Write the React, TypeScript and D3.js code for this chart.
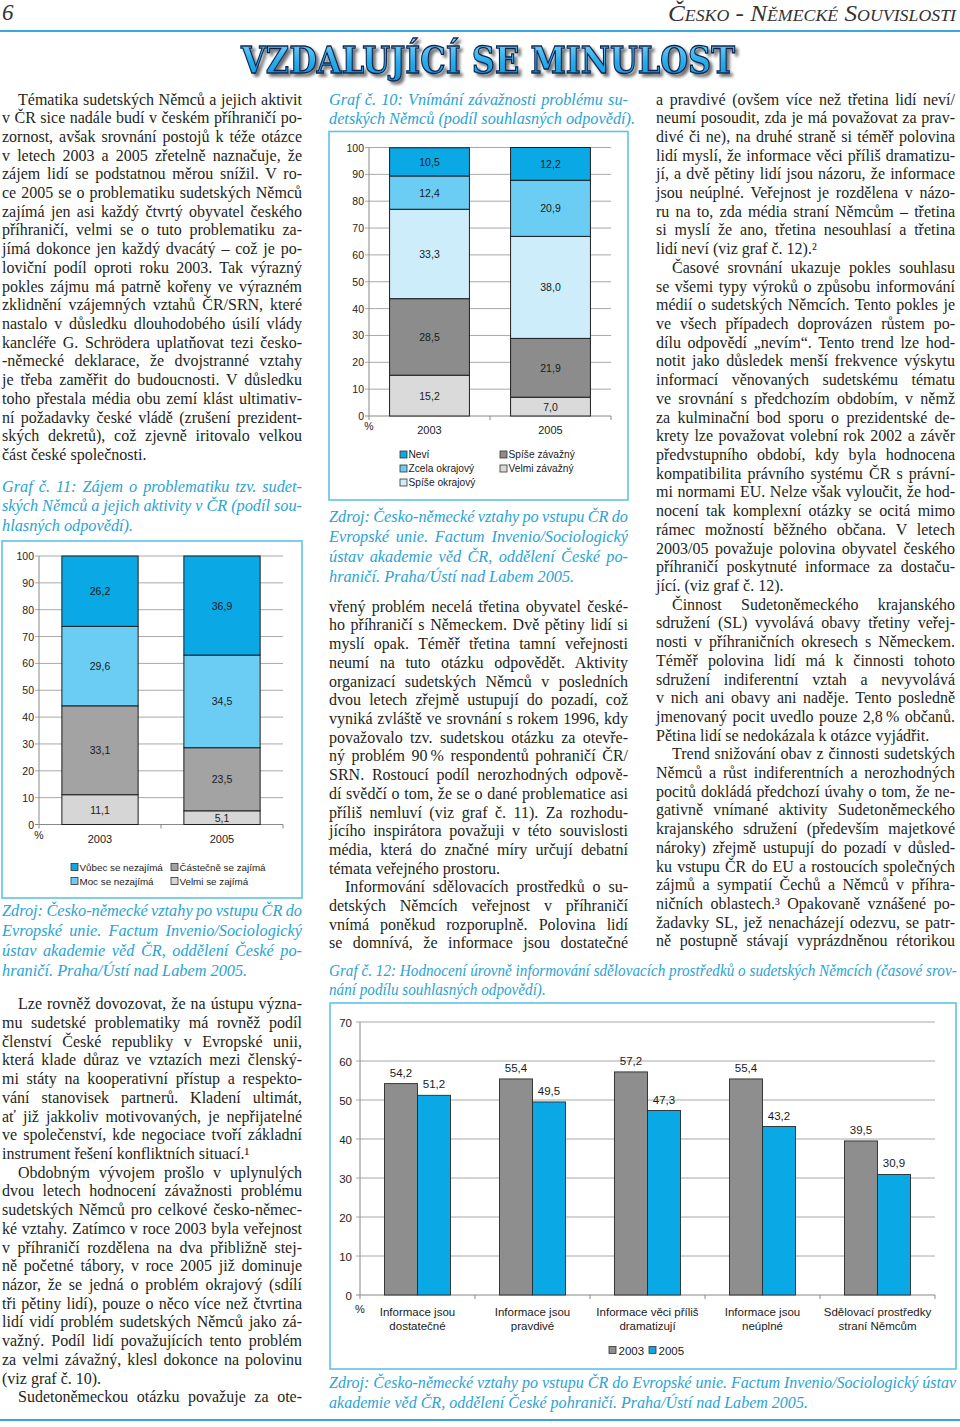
import React, { useEffect, useRef } from 'react';
import * as d3 from 'd3';

// ---------------- DATA ----------------
const years = ['2003', '2005'];

// Graf č. 10 (stack order bottom -> top)
const g10Keys = ['Velmi závažný', 'Spíše závažný', 'Spíše okrajový', 'Zcela okrajový', 'Neví'];
const g10Values2003 = [15.2, 28.5, 33.3, 12.4, 10.5];
const g10Values2005 = [7.0, 21.9, 38.0, 20.9, 12.2];
const g10Colors = ['#dadada', '#8c8c8c', '#cdedfb', '#6ccdf4', '#0aa8e5'];
const g10Legend = [
  { key: 'Neví', col: 0, row: 0 },
  { key: 'Spíše závažný', col: 1, row: 0 },
  { key: 'Zcela okrajový', col: 0, row: 1 },
  { key: 'Velmi závažný', col: 1, row: 1 },
  { key: 'Spíše okrajový', col: 0, row: 2 },
];

// Graf č. 11
const g11Keys = ['Velmi se zajímá', 'Částečně se zajímá', 'Moc se nezajímá', 'Vůbec se nezajímá'];
const g11Values2003 = [11.1, 33.1, 29.6, 26.2];
const g11Values2005 = [5.1, 23.5, 34.5, 36.9];
const g11Colors = ['#d6d6d6', '#a3a3a3', '#6ccdf4', '#0aa8e5'];
const g11Legend = [
  { key: 'Vůbec se nezajímá', col: 0, row: 0 },
  { key: 'Částečně se zajímá', col: 1, row: 0 },
  { key: 'Moc se nezajímá', col: 0, row: 1 },
  { key: 'Velmi se zajímá', col: 1, row: 1 },
];

const stackTicks = [0, 10, 20, 30, 40, 50, 60, 70, 80, 90, 100];

// Graf č. 12
const g12Categories = [
  'Informace jsou dostatečné',
  'Informace jsou pravdivé',
  'Informace věci příliš dramatizují',
  'Informace jsou neúplné',
  'Sdělovací prostředky straní Němcům',
];
const g12CategoryLines = [
  ['Informace jsou', 'dostatečné'],
  ['Informace jsou', 'pravdivé'],
  ['Informace věci příliš', 'dramatizují'],
  ['Informace jsou', 'neúplné'],
  ['Sdělovací prostředky', 'straní Němcům'],
];
const g12Values2003 = [54.2, 55.4, 57.2, 55.4, 39.5];
const g12Values2005 = [51.2, 49.5, 47.3, 43.2, 30.9];
const g12Colors = ['#8e8e8e', '#0aa8e5'];
const g12Ticks = [0, 10, 20, 30, 40, 50, 60, 70];

// ---------------- TEXT ----------------
// "~" = indented first line, "|" at end = last line (not justified)
const leftTopText = [
  '~Tématika sudetských Němců a jejich aktivit',
  'v ČR sice nadále budí v českém příhraničí po-',
  'zornost, avšak srovnání postojů k téže otázce',
  'v letech 2003 a 2005 zřetelně naznačuje, že',
  'zájem lidí se podstatnou měrou snížil. V ro-',
  'ce 2005 se o problematiku sudetských Němců',
  'zajímá jen asi každý čtvrtý obyvatel českého',
  'příhraničí, velmi se o tuto problematiku za-',
  'jímá dokonce jen každý dvacátý – což je po-',
  'loviční podíl oproti roku 2003. Tak výrazný',
  'pokles zájmu má patrně kořeny ve výrazném',
  'zklidnění vzájemných vztahů ČR/SRN, které',
  'nastalo v důsledku dlouhodobého úsilí vlády',
  'kancléře G. Schrödera uplatňovat tezi česko-',
  '-německé deklarace, že dvojstranné vztahy',
  'je třeba zaměřit do budoucnosti. V důsledku',
  'toho přestala média obu zemí klást ultimativ-',
  'ní požadavky české vládě (zrušení prezident-',
  'ských dekretů), což zjevně iritovalo velkou',
  'část české společnosti.|',
];
const caption11 = [
  'Graf č. 11: Zájem o problematiku tzv. sudet-',
  'ských Němců a jejich aktivity v ČR (podíl sou-',
  'hlasných odpovědí).|',
];
const sourceText = [
  'Zdroj: Česko-německé vztahy po vstupu ČR do',
  'Evropské unie. Factum Invenio/Sociologický',
  'ústav akademie věd ČR, oddělení České po-',
  'hraničí. Praha/Ústí nad Labem 2005.|',
];
const leftBottomText = [
  '~Lze rovněž dovozovat, že na ústupu význa-',
  'mu sudetské problematiky má rovněž podíl',
  'členství České republiky v Evropské unii,',
  'která klade důraz ve vztazích mezi členský-',
  'mi státy na kooperativní přístup a respekto-',
  'vání stanovisek partnerů. Kladení ultimát,',
  'ať již jakkoliv motivovaných, je nepřijatelné',
  've společenství, kde negociace tvoří základní',
  'instrument řešení konfliktních situací.¹|',
  '~Obdobným vývojem prošlo v uplynulých',
  'dvou letech hodnocení závažnosti problému',
  'sudetských Němců pro celkové česko-němec-',
  'ké vztahy. Zatímco v roce 2003 byla veřejnost',
  'v příhraničí rozdělena na dva přibližně stej-',
  'ně početné tábory, v roce 2005 již dominuje',
  'názor, že se jedná o problém okrajový (sdílí',
  'tři pětiny lidí), pouze o něco více než čtvrtina',
  'lidí vidí problém sudetských Němců jako zá-',
  'važný. Podíl lidí považujících tento problém',
  'za velmi závažný, klesl dokonce na polovinu',
  '(viz graf č. 10).|',
  '~Sudetoněmeckou otázku považuje za ote-',
];
const caption10 = [
  'Graf č. 10: Vnímání závažnosti problému su-',
  'detských Němců (podíl souhlasných odpovědí).|',
];
const middleText = [
  'vřený problém necelá třetina obyvatel české-',
  'ho příhraničí s Německem. Dvě pětiny lidí si',
  'myslí opak. Téměř třetina tamní veřejnosti',
  'neumí na tuto otázku odpovědět. Aktivity',
  'organizací sudetských Němců v posledních',
  'dvou letech zřejmě ustupují do pozadí, což',
  'vyniká zvláště ve srovnání s rokem 1996, kdy',
  'považovalo tzv. sudetskou otázku za otevře-',
  'ný problém 90\u2009% respondentů pohraničí ČR/',
  'SRN. Rostoucí podíl nerozhodných odpově-',
  'dí svědčí o tom, že se o dané problematice asi',
  'příliš nemluví (viz graf č. 11). Za rozhodu-',
  'jícího inspirátora považuji v této souvislosti',
  'média, která do značné míry určují debatní',
  'témata veřejného prostoru.|',
  '~Informování sdělovacích prostředků o su-',
  'detských Němcích veřejnost v příhraničí',
  'vnímá poněkud rozporuplně. Polovina lidí',
  'se domnívá, že informace jsou dostatečné',
];
const rightText = [
  'a pravdivé (ovšem více než třetina lidí neví/',
  'neumí posoudit, zda je má považovat za prav-',
  'divé či ne), na druhé straně si téměř polovina',
  'lidí myslí, že informace věci příliš dramatizu-',
  'jí, a dvě pětiny lidí jsou názoru, že informace',
  'jsou neúplné. Veřejnost je rozdělena v názo-',
  'ru na to, zda média straní Němcům – třetina',
  'si myslí že ano, třetina nesouhlasí a třetina',
  'lidí neví (viz graf č. 12).²|',
  '~Časové srovnání ukazuje pokles souhlasu',
  'se všemi typy výroků o způsobu informování',
  'médií o sudetských Němcích. Tento pokles je',
  've všech případech doprovázen růstem po-',
  'dílu odpovědí „nevím“. Tento trend lze hod-',
  'notit jako důsledek menší frekvence výskytu',
  'informací věnovaných sudetskému tématu',
  've srovnání s předchozím obdobím, v němž',
  'za kulminační bod sporu o prezidentské de-',
  'krety lze považovat volební rok 2002 a závěr',
  'předvstupního období, kdy byla hodnocena',
  'kompatibilita právního systému ČR s právní-',
  'mi normami EU. Nelze však vyloučit, že hod-',
  'nocení tak komplexní otázky se ocitá mimo',
  'rámec možností běžného občana. V letech',
  '2003/05 považuje polovina obyvatel českého',
  'příhraničí poskytnuté informace za dostaču-',
  'jící. (viz graf č. 12).|',
  '~Činnost Sudetoněmeckého krajanského',
  'sdružení (SL) vyvolává obavy třetiny veřej-',
  'nosti v příhraničních okresech s Německem.',
  'Téměř polovina lidí má k činnosti tohoto',
  'sdružení indiferentní vztah a nevyvolává',
  'v nich ani obavy ani naděje. Tento posledně',
  'jmenovaný pocit uvedlo pouze 2,8\u2009% občanů.',
  'Pětina lidí se nedokázala k otázce vyjádřit.|',
  '~Trend snižování obav z činnosti sudetských',
  'Němců a růst indiferentních a nerozhodných',
  'pocitů dokládá předchozí úvahy o tom, že ne-',
  'gativně vnímané aktivity Sudetoněmeckého',
  'krajanského sdružení (především majetkové',
  'nároky) zřejmě ustupují do pozadí v důsled-',
  'ku vstupu ČR do EU a rostoucích společných',
  'zájmů a sympatií Čechů a Němců v příhra-',
  'ničních oblastech.³ Opakovaně vznášené po-',
  'žadavky SL, jež nenacházejí odezvu, se patr-',
  'ně postupně stávají vyprázdněnou rétorikou',
];
const caption12 = [
  'Graf č. 12: Hodnocení úrovně informování sdělovacích prostředků o sudetských Němcích (časové srov-',
  'nání podílu souhlasných odpovědí).',
];
const source12 = [
  'Zdroj: Česko-německé vztahy po vstupu ČR do Evropské unie. Factum Invenio/Sociologický ústav',
  'akademie věd ČR, oddělení České pohraničí. Praha/Ústí nad Labem 2005.',
];

// ---------------- STYLE ----------------
const SERIF = '"Liberation Serif", "Times New Roman", serif';
const SANS = '"Liberation Sans", Arial, sans-serif';
const TEXT_COLOR = '#231f20';
const CAPTION_COLOR = '#2aa3d4';
const BOX_COLOR = '#5ec3e6';
const GRID = '#a8a8a8';
const LH = 18.71;

const fmt = (v: number) => d3.format('.1f')(v).replace('.', ',');

function textBlock(
  g: any,
  lines: string[],
  x0: number,
  x1: number,
  y0: number,
  lh: number,
  o: { size: number; italic?: boolean; color: string; indent?: number }
) {
  lines.forEach((raw, i) => {
    let s = raw;
    let indent = false;
    let just = true;
    if (s.startsWith('~')) {
      indent = true;
      s = s.slice(1);
    }
    if (s.endsWith('|')) {
      just = false;
      s = s.slice(0, -1);
    }
    const xs = x0 + (indent ? o.indent ?? 16 : 0);
    const t = g
      .append('text')
      .attr('x', xs)
      .attr('y', y0 + i * lh)
      .attr('font-family', SERIF)
      .attr('font-size', o.size)
      .attr('font-style', o.italic ? 'italic' : 'normal')
      .attr('fill', o.color)
      .text(s);
    if (just) {
      const w = (t.node() as SVGTextElement).getComputedTextLength();
      const n = (s.match(/ /g) || []).length;
      const target = x1 - xs;
      if (n > 0) t.style('word-spacing', `${(target - w) / n}px`);
      else t.attr('textLength', target).attr('lengthAdjust', 'spacing');
    }
  });
}

function scaledBlock(g: any, lines: string[], x0: number, width: number, ys: number[], size: number, color: string) {
  const grp = g.append('g');
  const texts = lines.map((s, i) =>
    grp
      .append('text')
      .attr('x', 0)
      .attr('y', ys[i])
      .attr('font-family', SERIF)
      .attr('font-size', size)
      .attr('font-style', 'italic')
      .attr('fill', color)
      .text(s)
  );
  const w = (texts[0].node() as SVGTextElement).getComputedTextLength();
  grp.attr('transform', `translate(${x0},0) scale(${width / w},1)`);
}

type StackCfg = {
  keys: string[];
  v2003: number[];
  v2005: number[];
  colors: string[];
  box: [number, number, number, number];
  axisX: number;
  plotRight: number;
  yTop: number;
  yBottom: number;
  barFrac: number;
  legend: { key: string; col: number; row: number }[];
  legendX: number[];
  legendY: number[];
  legendSize: number;
};

function drawStacked(root: any, c: StackCfg) {
  const g = root.append('g');
  g.append('rect')
    .attr('x', c.box[0])
    .attr('y', c.box[1])
    .attr('width', c.box[2] - c.box[0])
    .attr('height', c.box[3] - c.box[1])
    .attr('fill', '#fff')
    .attr('stroke', BOX_COLOR)
    .attr('stroke-width', 1.6);

  const y = d3.scaleLinear().domain([0, 100]).range([c.yBottom, c.yTop]);
  const x = d3.scaleBand<string>().domain(years).range([c.axisX, c.plotRight]);
  const color = d3.scaleOrdinal<string, string>().domain(c.keys).range(c.colors);

  g.selectAll('line.grid')
    .data(stackTicks.filter((t) => t > 0))
    .join('line')
    .attr('x1', c.axisX - 4)
    .attr('x2', c.plotRight)
    .attr('y1', (d: number) => y(d))
    .attr('y2', (d: number) => y(d))
    .attr('stroke', GRID)
    .attr('stroke-width', 1);

  g.selectAll('text.tick')
    .data(stackTicks)
    .join('text')
    .attr('x', c.axisX - 5)
    .attr('y', (d: number) => y(d) + 4)
    .attr('text-anchor', 'end')
    .attr('font-family', SANS)
    .attr('font-size', 10.5)
    .attr('fill', '#222')
    .text((d: number) => d);

  // axes
  g.append('line')
    .attr('x1', c.axisX).attr('x2', c.axisX)
    .attr('y1', y(0)).attr('y2', y(100))
    .attr('stroke', '#888').attr('stroke-width', 1);
  g.append('line')
    .attr('x1', c.axisX - 4).attr('x2', c.plotRight)
    .attr('y1', y(0)).attr('y2', y(0))
    .attr('stroke', '#888').attr('stroke-width', 1);
  const bounds = [c.axisX, ...years.map((yr) => (x(yr) as number) + x.bandwidth())];
  g.selectAll('line.xt')
    .data(bounds)
    .join('line')
    .attr('x1', (d: number) => d).attr('x2', (d: number) => d)
    .attr('y1', y(0)).attr('y2', y(0) + 4)
    .attr('stroke', '#888');

  g.append('text')
    .attr('x', c.axisX)
    .attr('y', y(0) + 14)
    .attr('text-anchor', 'middle')
    .attr('font-family', SANS)
    .attr('font-size', 10.5)
    .attr('fill', '#222')
    .text('%');

  years.forEach((yr) => {
    g.append('text')
      .attr('x', (x(yr) as number) + x.bandwidth() / 2)
      .attr('y', y(0) + 18)
      .attr('text-anchor', 'middle')
      .attr('font-family', SANS)
      .attr('font-size', 11)
      .attr('fill', '#222')
      .text(yr);
  });

  const rows = years.map((yr, i) => {
    const r: Record<string, any> = { year: yr };
    c.keys.forEach((k, j) => (r[k] = (i === 0 ? c.v2003 : c.v2005)[j]));
    return r;
  });
  const series = d3.stack<any>().keys(c.keys)(rows);
  const bw = x.bandwidth() * c.barFrac;
  series.forEach((s) => {
    s.forEach((d, di) => {
      const cx = (x(years[di]) as number) + x.bandwidth() / 2;
      g.append('rect')
        .attr('x', cx - bw / 2)
        .attr('y', y(d[1]))
        .attr('width', bw)
        .attr('height', y(d[0]) - y(d[1]))
        .attr('fill', color(s.key))
        .attr('stroke', '#1e1e1e')
        .attr('stroke-width', 1);
      g.append('text')
        .attr('x', cx)
        .attr('y', (y(d[0]) + y(d[1])) / 2 + 4)
        .attr('text-anchor', 'middle')
        .attr('font-family', SANS)
        .attr('font-size', 10.5)
        .attr('fill', '#1a1a1a')
        .text(fmt(d[1] - d[0]));
    });
  });

  c.legend.forEach((it) => {
    const lx = c.legendX[it.col];
    const ly = c.legendY[it.row];
    g.append('rect')
      .attr('x', lx).attr('y', ly - 3.5)
      .attr('width', 7).attr('height', 7)
      .attr('fill', color(it.key))
      .attr('stroke', '#333').attr('stroke-width', 0.8);
    g.append('text')
      .attr('x', lx + 8.5)
      .attr('y', ly + 3.8)
      .attr('font-family', SANS)
      .attr('font-size', c.legendSize)
      .attr('fill', '#1a1a1a')
      .text(it.key);
  });
}

function drawGrouped(root: any) {
  const g = root.append('g');
  const box = [330, 1003, 956, 1369];
  g.append('rect')
    .attr('x', box[0]).attr('y', box[1])
    .attr('width', box[2] - box[0]).attr('height', box[3] - box[1])
    .attr('fill', '#fff').attr('stroke', BOX_COLOR).attr('stroke-width', 1.6);

  const axisX = 360;
  const right = 935;
  const y = d3.scaleLinear().domain([0, 70]).range([1295, 1022]);
  const x0 = d3.scaleBand<string>().domain(g12Categories).range([axisX, right]);
  const x1 = d3.scaleBand<string>().domain(years).range([0, x0.bandwidth()]).paddingOuter(0.74);
  const color = d3.scaleOrdinal<string, string>().domain(years).range(g12Colors);

  g.selectAll('line.grid')
    .data(g12Ticks.filter((t) => t > 0))
    .join('line')
    .attr('x1', axisX - 4).attr('x2', right)
    .attr('y1', (d: number) => y(d)).attr('y2', (d: number) => y(d))
    .attr('stroke', GRID).attr('stroke-width', 1);
  g.selectAll('text.tick')
    .data(g12Ticks)
    .join('text')
    .attr('x', axisX - 8)
    .attr('y', (d: number) => y(d) + 4.5)
    .attr('text-anchor', 'end')
    .attr('font-family', SANS)
    .attr('font-size', 11.5)
    .attr('fill', '#222')
    .text((d: number) => d);
  g.append('line').attr('x1', axisX).attr('x2', axisX).attr('y1', y(0)).attr('y2', y(70)).attr('stroke', '#888');
  g.append('line').attr('x1', axisX - 4).attr('x2', right).attr('y1', y(0)).attr('y2', y(0)).attr('stroke', '#888');
  const bounds = [axisX, ...g12Categories.map((c) => (x0(c) as number) + x0.bandwidth())];
  g.selectAll('line.xt')
    .data(bounds)
    .join('line')
    .attr('x1', (d: number) => d).attr('x2', (d: number) => d)
    .attr('y1', y(0)).attr('y2', y(0) + 4)
    .attr('stroke', '#888');
  g.append('text')
    .attr('x', axisX).attr('y', y(0) + 18)
    .attr('text-anchor', 'middle')
    .attr('font-family', SANS).attr('font-size', 11).attr('fill', '#222')
    .text('%');

  g12Categories.forEach((cat, ci) => {
    const vals = [g12Values2003[ci], g12Values2005[ci]];
    years.forEach((yr, yi) => {
      const bx = (x0(cat) as number) + (x1(yr) as number);
      g.append('rect')
        .attr('x', bx).attr('y', y(vals[yi]))
        .attr('width', x1.bandwidth()).attr('height', y(0) - y(vals[yi]))
        .attr('fill', color(yr)).attr('stroke', '#2a2a2a').attr('stroke-width', 0.9);
      g.append('text')
        .attr('x', bx + x1.bandwidth() / 2)
        .attr('y', y(vals[yi]) - 7)
        .attr('text-anchor', 'middle')
        .attr('font-family', SANS).attr('font-size', 11.5).attr('fill', '#1a1a1a')
        .text(fmt(vals[yi]));
    });
    g12CategoryLines[ci].forEach((ln, li) => {
      g.append('text')
        .attr('x', (x0(cat) as number) + x0.bandwidth() / 2)
        .attr('y', 1316 + li * 14)
        .attr('text-anchor', 'middle')
        .attr('font-family', SANS).attr('font-size', 11.5).attr('fill', '#1a1a1a')
        .text(ln);
    });
  });

  const legX = [609, 649];
  years.forEach((yr, i) => {
    g.append('rect')
      .attr('x', legX[i]).attr('y', 1346.5).attr('width', 7).attr('height', 7)
      .attr('fill', color(yr)).attr('stroke', '#333').attr('stroke-width', 0.8);
    g.append('text')
      .attr('x', legX[i] + 9.5).attr('y', 1354.5)
      .attr('font-family', SANS).attr('font-size', 11.5).attr('fill', '#1a1a1a')
      .text(yr);
  });
}

function drawAll(svgEl: SVGSVGElement) {
  const svg = d3.select(svgEl);
  svg.selectAll('*').remove();
  svg.append('rect').attr('width', 960).attr('height', 1427).attr('fill', '#fff');

  const defs = svg.append('defs');
  const grad = defs.append('linearGradient').attr('id', 'titleGrad').attr('x1', 0).attr('y1', 0).attr('x2', 0).attr('y2', 1);
  grad.append('stop').attr('offset', '0%').attr('stop-color', '#86d8fa');
  grad.append('stop').attr('offset', '55%').attr('stop-color', '#29acea');
  grad.append('stop').attr('offset', '100%').attr('stop-color', '#1590d4');
  const filt = defs.append('filter').attr('id', 'titleShadow').attr('x', '-5%').attr('y', '-20%').attr('width', '115%').attr('height', '160%');
  filt.append('feDropShadow').attr('dx', 3).attr('dy', 3).attr('stdDeviation', 1.8).attr('flood-color', '#000').attr('flood-opacity', 0.55);

  // Header
  svg.append('text')
    .attr('x', 2).attr('y', 20)
    .attr('font-family', SERIF).attr('font-size', 23).attr('font-style', 'italic')
    .attr('fill', '#333').text('6');
  const hdr = svg.append('text')
    .attr('x', 956).attr('y', 21)
    .attr('text-anchor', 'end')
    .attr('font-family', SERIF).attr('font-size', 24).attr('font-style', 'italic')
    .style('font-variant', 'small-caps')
    .attr('fill', '#333').text('Česko - Německé Souvislosti');
  const hw = (hdr.node() as SVGTextElement).getComputedTextLength();
  hdr.attr('textLength', 288).attr('lengthAdjust', 'spacingAndGlyphs');
  if (!hw) hdr.attr('textLength', null);
  svg.append('line').attr('x1', 0).attr('x2', 960).attr('y1', 31).attr('y2', 31)
    .attr('stroke', '#3aa8dc').attr('stroke-width', 2.2);

  // Title
  svg.append('text')
    .attr('x', 241).attr('y', 73)
    .attr('font-family', '"DejaVu Serif", serif')
    .attr('font-weight', 900)
    .attr('font-size', 38)
    .attr('textLength', 494)
    .attr('lengthAdjust', 'spacingAndGlyphs')
    .attr('fill', 'url(#titleGrad)')
    .attr('stroke', '#0c2450')
    .attr('stroke-width', 1.3)
    .attr('filter', 'url(#titleShadow)')
    .text('VZDALUJÍCÍ SE MINULOST');

  const body = { size: 16, color: TEXT_COLOR, indent: 16 };
  const cap = { size: 16.3, color: CAPTION_COLOR, italic: true };

  // Left column
  textBlock(svg, leftTopText, 2, 302, 104.5, LH, body);
  textBlock(svg, caption11, 2, 302, 491.5, 19.5, cap);
  drawStacked(svg, {
    keys: g11Keys, v2003: g11Values2003, v2005: g11Values2005, colors: g11Colors,
    box: [2, 541, 302, 898], axisX: 39, plotRight: 283, yTop: 556, yBottom: 824.5, barFrac: 0.625,
    legend: g11Legend, legendX: [71, 171], legendY: [867, 881], legendSize: 9.8,
  });
  textBlock(svg, sourceText, 2, 302, 916, 20, cap);
  textBlock(svg, leftBottomText, 2, 302, 1009.3, LH, body);

  // Middle column
  textBlock(svg, caption10, 329, 628, 104.5, 19.5, cap);
  drawStacked(svg, {
    keys: g10Keys, v2003: g10Values2003, v2005: g10Values2005, colors: g10Colors,
    box: [329, 131.5, 628, 500], axisX: 369, plotRight: 611, yTop: 147.5, yBottom: 416, barFrac: 0.66,
    legend: g10Legend, legendX: [400, 500], legendY: [454.5, 468.5, 482.5], legendSize: 10.2,
  });
  textBlock(svg, sourceText, 329, 628, 521.7, 20, cap);
  textBlock(svg, middleText, 329, 628, 611.7, LH, body);

  // Right column
  textBlock(svg, rightText, 656, 955, 104.5, LH, body);

  // Graf 12
  scaledBlock(svg, caption12, 329, 627, [976, 995.5], 16.3, CAPTION_COLOR);
  drawGrouped(svg);
  scaledBlock(svg, source12, 329, 627, [1388, 1408], 16.3, CAPTION_COLOR);

  svg.append('line').attr('x1', 0).attr('x2', 960).attr('y1', 1420).attr('y2', 1420)
    .attr('stroke', '#3aa8dc').attr('stroke-width', 2.2);
}

export default function App() {
  const ref = useRef<SVGSVGElement>(null);
  useEffect(() => {
    const run = () => {
      if (ref.current) drawAll(ref.current);
    };
    run();
    const fonts = (document as any).fonts;
    if (fonts && fonts.ready) fonts.ready.then(run);
  }, []);
  return (
    <svg
      ref={ref}
      width={960}
      height={1427}
      style={{ position: 'absolute', left: 0, top: 0, display: 'block' }}
    />
  );
}
